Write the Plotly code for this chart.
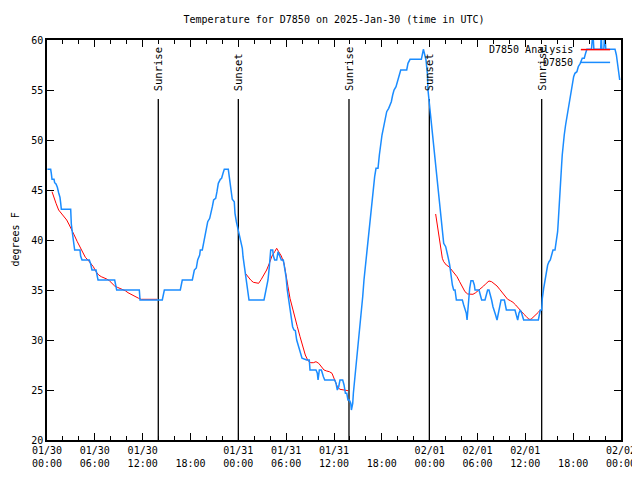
import plotly.graph_objects as go

# ---------------- data ----------------
title_text = "Temperature for D7850 on 2025-Jan-30 (time in UTC)"
y_label = "degrees F"
series_names = ["D7850 Analysis", "D7850"]

tick_hours = [0, 6, 12, 18, 24, 30, 36, 42, 48, 54, 60, 66, 72]
tick_labels = ["01/30<br>00:00", "01/30<br>06:00", "01/30<br>12:00", "<br>18:00",
               "01/31<br>00:00", "01/31<br>06:00", "01/31<br>12:00", "<br>18:00",
               "02/01<br>00:00", "02/01<br>06:00", "02/01<br>12:00", "<br>18:00",
               "02/02<br>00:00"]

event_hours = [13.96, 24.0, 37.88, 47.96, 62.05]
event_labels = ["Sunrise", "Sunset", "Sunrise", "Sunset", "Sunrise"]
event_top = 54.1

obs_hours = [0.05, 0.46, 0.54, 0.63, 0.88, 0.96, 1.13, 1.30, 1.46, 1.63, 1.71, 1.80, 2.97, 3.05, 3.22, 3.39,
             3.47, 4.14, 4.22, 4.39, 5.31, 5.48, 5.64, 6.15, 6.31, 6.40, 8.49, 8.57, 8.74, 11.58, 11.67, 14.46,
             14.72, 16.72, 16.97, 18.23, 18.40, 18.48, 18.73, 18.90, 19.15, 19.23, 19.48, 19.65, 19.82, 19.98,
             20.16, 20.41, 20.57, 20.74, 20.90, 21.16, 21.32, 21.49, 21.74, 21.90, 22.08, 22.24, 22.74, 22.91,
             23.08, 23.24, 23.49, 23.58, 23.75, 24.00, 24.17, 24.34, 24.50, 24.59, 24.75, 24.92, 25.09, 25.25,
             25.34, 27.22, 27.55, 27.72, 27.89, 28.06, 28.31, 28.40, 28.56, 28.81, 28.98, 29.14, 29.39, 29.64,
             29.81, 29.98, 30.14, 30.31, 30.48, 30.65, 30.81, 30.98, 31.15, 31.32, 31.49, 31.65, 31.82, 31.99,
             32.57, 32.90, 32.99, 33.74, 33.91, 34.00, 34.16, 34.42, 34.67, 34.84, 36.09, 36.25, 36.42, 36.59,
             36.75, 37.09, 37.26, 37.43, 37.60, 37.75, 37.92, 38.10, 38.18, 38.35, 38.43, 38.60, 38.76, 38.93,
             39.10, 39.26, 39.43, 39.60, 39.76, 39.93, 40.10, 40.27, 40.43, 40.60, 40.77, 40.93, 41.10, 41.27,
             41.52, 41.69, 41.86, 42.02, 42.19, 42.36, 42.61, 42.86, 43.19, 43.36, 43.53, 43.78, 43.95, 44.11,
             44.28, 44.37, 45.12, 45.28, 45.54, 46.96, 47.21, 47.38, 47.54, 47.71, 47.79, 47.96, 48.13, 48.29,
             48.46, 48.63, 48.88, 49.05, 49.21, 49.42, 49.59, 49.76, 50.01, 50.18, 50.34, 50.51, 50.68, 50.85,
             51.01, 51.18, 51.35, 52.10, 52.27, 52.43, 52.60, 52.69, 52.85, 53.02, 53.18, 53.43, 53.60, 53.69,
             54.19, 54.35, 54.52, 54.94, 55.10, 55.27, 55.44, 55.60, 55.77, 55.94, 56.11, 56.27, 56.45, 56.61,
             56.78, 56.95, 57.37, 57.53, 57.62, 58.70, 58.87, 59.04, 59.20, 59.37, 59.54, 59.79, 61.63, 61.80,
             61.88, 62.05, 62.13, 62.30, 62.47, 62.63, 62.80, 62.97, 63.13, 63.30, 63.47, 63.72, 63.89, 64.05,
             64.13, 64.22, 64.30, 64.38, 64.47, 64.55, 64.63, 64.72, 64.88, 65.05, 65.22, 65.38, 65.55, 65.72,
             65.89, 66.06, 66.22, 66.47, 66.64, 66.89, 67.14, 67.39, 67.56, 67.72, 67.95, 68.30, 68.47, 68.60,
             69.45, 69.52, 69.60, 69.85, 69.95, 70.10, 71.25, 71.42, 71.59, 71.75, 71.84]
obs_temps = [47.07, 47.07, 46.67, 46.07, 46.07, 45.73, 45.6, 45.27, 44.73, 44.27, 43.73, 43.07, 43.07, 41.6, 40.5, 39.5,
             39.0, 39.0, 38.4, 38.0, 38.0, 37.6, 37.0, 37.0, 36.5, 36.0, 36.0, 35.5, 35.0, 35.0, 34.0, 34.0,
             35.0, 35.0, 36.0, 36.0, 36.6, 37.0, 37.2, 38.0, 38.5, 39.0, 39.0, 39.67, 40.4, 41.0,
             41.83, 42.17, 42.67, 43.33, 44.0, 44.17, 44.83, 45.67, 46.07, 46.17, 46.67, 47.07, 47.07, 46.0,
             44.67, 44.07, 43.83, 42.67, 41.83, 41.0, 40.33, 39.67, 39.17, 38.33, 37.33, 36.33, 35.33, 34.17,
             34.0, 34.0, 35.17, 36.0, 37.33, 39.0, 39.0, 38.4, 38.0, 38.0, 38.83, 38.5, 38.0, 38.0,
             37.33, 36.33, 35.0, 34.0, 33.0, 32.0, 31.33, 31.0, 30.93, 30.0, 29.5, 29.0, 28.5, 28.17,
             28.0, 28.0, 27.0, 27.0, 26.67, 26.0, 27.0, 27.0, 26.33, 26.0, 26.0, 25.67, 25.0, 25.33,
             26.0, 26.0, 25.5, 24.67, 24.67, 24.0, 24.0, 23.67, 23.0, 23.67, 24.67, 26.0, 27.33, 28.67,
             30.0, 31.33, 32.67, 34.33, 36.0, 37.33, 38.67, 40.0, 41.33, 42.67, 43.67, 44.67, 46.33, 47.17,
             47.17, 48.5, 49.67, 50.5, 51.17, 52.0, 52.83, 53.17, 53.83, 54.5, 55.0, 55.33, 55.83, 56.33,
             56.83, 57.0, 57.0, 57.67, 58.07, 58.07, 59.07, 58.5, 58.0, 56.67, 55.0, 53.67, 52.33, 51.0,
             49.67, 48.33, 46.67, 45.33, 43.67, 42.33, 40.67, 39.67, 39.33, 38.83, 38.17, 37.5, 36.33, 35.5,
             35.0, 35.0, 34.0, 34.0, 33.5, 33.0, 32.67, 32.0, 34.0, 35.17, 35.93, 35.93, 35.5, 35.0,
             35.0, 34.5, 34.0, 34.0, 34.5, 35.0, 35.0, 34.33, 34.0, 33.33, 33.0, 32.5, 32.0, 32.67,
             33.33, 34.0, 34.0, 33.5, 33.0, 33.0, 32.5, 32.0, 32.67, 33.0, 32.67, 32.0, 32.0, 32.5,
             33.0, 33.0, 34.17, 35.17, 36.0, 36.83, 37.5, 37.83, 38.0, 38.5, 39.0, 39.0, 39.83, 40.83,
             41.83, 42.83, 44.0, 45.17, 46.5, 47.5, 48.5, 49.5, 50.5, 51.5, 52.33, 53.17, 54.0, 54.83,
             55.5, 56.33, 56.67, 56.83, 57.33, 57.67, 58.17, 58.17, 58.67, 59.07, 59.07, 59.07, 60.8, 59.07,
             59.07, 60.8, 59.07, 59.07, 60.8, 59.07, 59.07, 58.5, 57.5, 56.67, 56.0]

ana_hours = [0.63, 0.88, 1.13, 1.46, 1.96, 2.47, 2.80, 3.14, 3.47, 3.80, 4.14, 4.47, 4.81, 5.14, 5.48, 5.81,
             6.15, 6.48, 6.81, 7.15, 7.49, 7.82, 8.15, 8.49, 8.82, 9.16, 9.49, 9.82, 10.16, 10.50, 10.83,
             11.16, 11.50, 11.83, 13.80, None,
             24.88, 25.21, 25.55, 25.88, 26.22, 26.55, 26.88, 27.22, 27.55, 27.89, 28.22, 28.56, 28.81, 29.06,
             29.39, 29.73, 29.98, 30.23, 30.48, 30.73, 31.07, 31.40, 31.74, 32.07, 32.40, 32.74, 33.08, 33.41,
             33.74, 34.08, 34.41, 34.75, 35.08, 35.42, 35.75, 36.09, 36.42, 36.75, 37.09, 37.42, 37.76, None,
             48.75, 48.92, 49.09, 49.25, 49.42, 49.59, 49.76, 50.09, 50.43, 50.76, 51.10, 51.43, 51.76, 52.10,
             52.43, 52.77, 53.43, 53.77, 54.10, 54.44, 54.77, 55.10, 55.44, 55.77, 56.11, 56.45, 56.78, 57.11,
             57.45, 57.78, 58.12, 58.45, 58.79, 59.12, 59.46, 59.79, 60.13, 60.46, 60.71, 61.04, 61.38, 61.63,
             61.88]
ana_temps = [44.83, 44.17, 43.67, 43.0, 42.5, 42.0, 41.5, 41.0, 40.4, 39.83, 39.33, 38.73, 38.27, 38.0, 37.67, 37.33,
             36.83, 36.5, 36.33, 36.23, 36.1, 35.93, 35.67, 35.4, 35.27, 35.17, 35.07, 34.93, 34.73, 34.57, 34.4,
             34.27, 34.17, 34.07, 34.07, None,
             36.67, 36.33, 36.0, 35.77, 35.73, 35.67, 36.07, 36.5, 37.0, 37.67, 38.4, 38.83, 39.17, 38.83,
             38.4, 37.67, 36.67, 35.33, 34.17, 33.33, 32.33, 31.33, 30.33, 29.33, 28.5, 27.93, 27.73, 27.73,
             27.83, 27.67, 27.33, 27.0, 26.9, 26.83, 26.67, 26.0, 25.33, 25.07, 25.0, 24.93, 24.93, None,
             42.6, 41.67, 40.67, 39.67, 39.0, 38.17, 37.83, 37.5, 37.33, 37.0, 36.67, 36.33, 35.83, 35.33,
             34.83, 34.6, 34.57, 34.73, 34.93, 35.17, 35.4, 35.67, 35.9, 35.83, 35.6, 35.4, 35.07, 34.73,
             34.33, 34.07, 33.93, 33.77, 33.5, 33.17, 32.83, 32.6, 32.33, 32.07, 32.07, 32.33, 32.5, 32.77,
             33.0]

# ---------------- figure ----------------
FONT = "DejaVu Sans Mono"
BLUE = "#1a8cff"
RED = "#ff0000"

# the page body has an 8px margin, so the figure is sized/offset to compensate
W, H = 632, 472

ev_x, ev_y = [], []
for h in event_hours:
    ev_x += [h, h, None]
    ev_y += [20, event_top, None]

fig = go.Figure()
fig.add_trace(go.Scatter(x=ev_x, y=ev_y, mode="lines", line=dict(color="black", width=1.3),
                         hoverinfo="skip", showlegend=False))
fig.add_trace(go.Scatter(x=ana_hours, y=ana_temps, mode="lines", name=series_names[0],
                         line=dict(color=RED, width=1), connectgaps=False, showlegend=False))
fig.add_trace(go.Scatter(x=obs_hours, y=obs_temps, mode="lines", name=series_names[1],
                         line=dict(color=BLUE, width=1.5), showlegend=False))

annotations = []
for h, lab in zip(event_hours, event_labels):
    annotations.append(dict(x=h, y=event_top + 0.6, xref="x", yref="y", text=lab, textangle=-90,
                            showarrow=False, xanchor="center", yanchor="bottom",
                            font=dict(family=FONT, size=10.5, color="black")))

# legend (gnuplot style: text left, sample right)
leg_y = [0.976, 0.944]
leg_colors = [RED, BLUE]
shapes = []
for name, yy, c in zip(series_names, leg_y, leg_colors):
    annotations.append(dict(x=0.919, y=yy, xref="paper", yref="paper", text=name, showarrow=False,
                            xanchor="right", yanchor="middle",
                            font=dict(family=FONT, size=10, color="black")))
    shapes.append(dict(type="line", xref="paper", yref="paper", x0=0.930, x1=0.981, y0=yy, y1=yy,
                       line=dict(color=c, width=1.5)))

annotations.append(dict(x=-0.0566, y=0.5, xref="paper", yref="paper", text=y_label, textangle=-90,
                        showarrow=False, xanchor="center", yanchor="middle",
                        font=dict(family=FONT, size=10, color="black")))

fig.update_layout(
    width=W, height=H,
    margin=dict(l=39, r=19, t=32, b=40, autoexpand=False),
    paper_bgcolor="white", plot_bgcolor="white",
    font=dict(family=FONT, size=10, color="black"),
    title=dict(text=title_text, x=0.5, xref="paper", y=1 - 11 / H, yref="container",
               xanchor="center", yanchor="middle", font=dict(family=FONT, size=10, color="black")),
    annotations=annotations, shapes=shapes,
    xaxis=dict(range=[0, 72], tickmode="array", tickvals=tick_hours, ticktext=tick_labels,
               ticks="inside", ticklen=7, tickwidth=1, tickcolor="black",
               showline=True, linecolor="black", linewidth=1.5, mirror="allticks",
               showgrid=False, zeroline=False, tickfont=dict(family=FONT, size=10),
               minor=dict(tickmode="linear", tick0=0, dtick=2, ticks="inside", ticklen=4,
                          tickcolor="black", tickwidth=1, showgrid=False)),
    yaxis=dict(range=[20, 60], tickmode="linear", tick0=20, dtick=5,
               ticks="inside", ticklen=7, tickwidth=1, tickcolor="black",
               showline=True, linecolor="black", linewidth=1.5, mirror="allticks",
               showgrid=False, zeroline=False, tickfont=dict(family=FONT, size=10)),
)

fig.write_html("out.html")
